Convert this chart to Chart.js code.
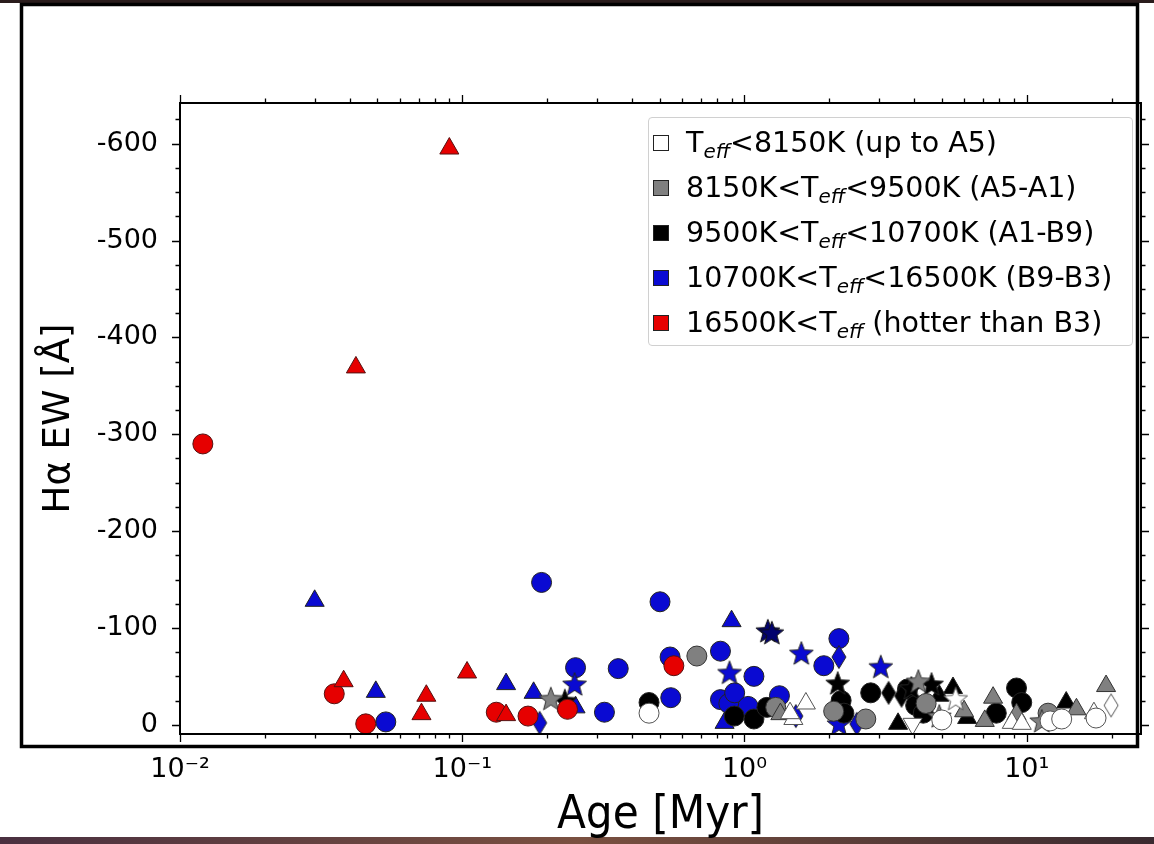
<!DOCTYPE html>
<html>
<head>
<meta charset="utf-8">
<script src="https://cdn.jsdelivr.net/npm/chart.js@4.4.1/dist/chart.umd.min.js"></script>
<style>
  body { margin: 0; background: #fff; }
  #wrap { position: relative; width: 1154px; height: 844px; }
  #legend {
    position: absolute; left: 648px; top: 117px; width: 485px; height: 229px;
    box-sizing: border-box; padding-top: 2px;
    border: 1px solid #d0d0d0; border-radius: 4px; background: rgba(255,255,255,0.85);
    font-family: 'DejaVu Sans', sans-serif; font-size: 28.5px; color: #000;
  }
  .row { height: 45px; display: flex; align-items: center; padding-left: 4px; white-space: nowrap; }
  .sw { width: 16px; height: 16px; box-sizing: border-box; border: 1px solid #222; margin-right: 17px; flex: none; }
  sub { font-style: italic; font-size: 0.7em; vertical-align: -0.28em; line-height: 0; }
</style>
</head>
<body>
<div id="wrap">
  <canvas id="chart" width="1154" height="844"></canvas>
  <div id="legend"></div>
</div>
<script>
// [age (Myr), H-alpha EW (A)]
const whiteCircles = [[0.459, -12], [5.0, -5], [12.1, -4], [13.3, -6], [17.6, -7]];
const whiteTriangles = [[1.49, -6], [1.65, -22], [1.45, -12], [8.85, -2], [9.6, -1], [17.3, -12]];
const whiteDown = [[3.94, -1]];
const whiteStars = [[5.6, -27]];
const whiteDiamonds = [[19.9, -20]];

const grayCircles = [[0.678, -71], [1.29, -18], [2.07, -14], [2.69, -6], [4.4, -22], [11.9, -12]];
const grayTriangles = [[1.34, -11], [6.0, -14], [7.1, -4], [7.6, -28], [9.2, -11], [15.0, -16], [19.1, -40]];
const grayStars = [[0.206, -27], [4.13, -45], [4.9, -9], [11.3, -4]];

const blackCircles = [[0.459, -23], [0.92, -9], [1.08, -6], [1.2, -18], [2.2, -25], [2.25, -12],
  [2.8, -33], [3.78, -37], [4.04, -20], [4.3, -12], [7.8, -12], [9.2, -38], [9.6, -23]];
const blackTriangles = [[3.5, -1], [4.9, -30], [5.48, -38], [6.15, -7], [13.8, -23]];
const blackStars = [[0.231, -25], [2.14, -43], [3.9, -38], [4.6, -42]];
const blackDiamonds = [[3.24, -33], [3.6, -30]];

const blueCircles = [[0.0536, -3], [0.191, -147], [0.252, -59], [0.319, -13], [0.357, -58], [0.502, -127],
  [0.545, -70], [0.548, -28], [0.822, -76], [0.822, -26], [0.88, -22], [0.923, -33], [1.03, -19],
  [1.08, -50], [1.33, -30], [1.91, -61], [2.16, -89]];
const blueTriangles = [[0.030, -128], [0.0494, -34], [0.143, -42], [0.179, -33], [0.252, -18], [0.90, -107], [0.85, -2]];
const blueStars = [[0.25, -42], [0.885, -54], [1.59, -74], [3.04, -60], [2.16, -1]];
const navyStars = [[1.21, -97], [1.25, -95]];
const blueDiamonds = [[0.188, -2], [1.52, -9], [2.16, -70], [2.5, -1]];

const redCircles = [[0.01205, -290], [0.0352, -32], [0.0455, -1], [0.132, -13], [0.171, -9], [0.236, -16], [0.562, -61]];
const redTriangles = [[0.090, -595], [0.042, -369], [0.038, -45], [0.0746, -30], [0.0717, -11], [0.104, -54], [0.143, -10]];

const xTickVals = [0.01, 0.1, 1, 10];
const xTickLabels = ['10\u207B\u00B2', '10\u207B\u00B9', '10\u2070', '10\u00B9'];
const yTickVals = [-600, -500, -400, -300, -200, -100, 0];

const legendColors = ['#ffffff', '#808080', '#000000', '#0a0ad2', '#e60000'];
const legendLabels = [
  'T<sub>eff</sub>&lt;8150K (up to A5)',
  '8150K&lt;T<sub>eff</sub>&lt;9500K (A5-A1)',
  '9500K&lt;T<sub>eff</sub>&lt;10700K (A1-B9)',
  '10700K&lt;T<sub>eff</sub>&lt;16500K (B9-B3)',
  '16500K&lt;T<sub>eff</sub> (hotter than B3)'
];

document.getElementById('legend').innerHTML = legendLabels.map((t, i) =>
  `<div class="row"><span class="sw" style="background:${legendColors[i]}"></span><span>${t}</span></div>`).join('');

function pts(a) { return a.map(p => ({ x: p[0], y: p[1] })); }

function starImg(fill, edge) {
  const c = document.createElement('canvas');
  c.width = c.height = 28;
  const g = c.getContext('2d');
  g.beginPath();
  for (let i = 0; i < 10; i++) {
    const r = i % 2 ? 5.3 : 12.5;
    const a = -Math.PI / 2 + i * Math.PI / 5;
    g.lineTo(14 + r * Math.cos(a), 15 + r * Math.sin(a));
  }
  g.closePath();
  g.fillStyle = fill; g.fill();
  g.lineWidth = 1; g.strokeStyle = edge; g.stroke();
  return c;
}

function diamondImg(fill, edge) {
  const c = document.createElement('canvas');
  c.width = 18; c.height = 26;
  const g = c.getContext('2d');
  g.beginPath();
  g.moveTo(9, 1.5); g.lineTo(16, 13); g.lineTo(9, 24.5); g.lineTo(2, 13);
  g.closePath();
  g.fillStyle = fill; g.fill();
  g.lineWidth = 1; g.strokeStyle = edge; g.stroke();
  return c;
}

function ds(data, style, fill, edge, radius, rotation) {
  return {
    data: pts(data), pointStyle: style, backgroundColor: fill, borderColor: edge,
    borderWidth: 1, pointRadius: radius, pointRotation: rotation || 0, pointHoverRadius: radius
  };
}

const WHITE = '#ffffff', GRAY = '#808080', BLACK = '#000000', BLUE = '#0a0ad2', NAVY = '#02026e', RED = '#e60000';

// first dataset ends up on top
const datasets = [
  ds(redTriangles, 'triangle', RED, '#551111', 11),
  ds(redCircles, 'circle', RED, '#551111', 10),
  ds(whiteCircles, 'circle', WHITE, '#555', 10),
  ds(whiteTriangles, 'triangle', WHITE, '#555', 11),
  ds(whiteDown, 'triangle', WHITE, '#555', 11, 180),
  ds(whiteStars, starImg(WHITE, '#555'), WHITE, '#555', 12),
  ds(whiteDiamonds, diamondImg(WHITE, '#555'), WHITE, '#555', 12),
  ds(grayStars, starImg(GRAY, '#333'), GRAY, '#333', 12),
  ds(grayTriangles, 'triangle', GRAY, '#333', 11),
  ds(grayCircles, 'circle', GRAY, '#333', 10),
  ds(blackStars, starImg(BLACK, '#222'), BLACK, '#222', 12),
  ds(blackDiamonds, diamondImg(BLACK, '#222'), BLACK, '#222', 12),
  ds(blackTriangles, 'triangle', BLACK, '#222', 11),
  ds(blackCircles, 'circle', BLACK, '#222', 10),
  ds(navyStars, starImg(NAVY, '#111'), NAVY, '#111', 12),
  ds(blueStars, starImg(BLUE, '#222'), BLUE, '#222', 12),
  ds(blueDiamonds, diamondImg(BLUE, '#222'), BLUE, '#222', 12),
  ds(blueTriangles, 'triangle', BLUE, '#222', 11),
  ds(blueCircles, 'circle', BLUE, '#222', 10)
];

const frame = {
  id: 'frame',
  beforeDraw(chart) {
    const ctx = chart.ctx;
    ctx.save();
    ctx.fillStyle = '#fff';
    ctx.fillRect(0, 0, chart.width, chart.height);
    ctx.fillStyle = '#2a1c1c';
    ctx.fillRect(0, 0, chart.width, 3);
    const grd = ctx.createLinearGradient(0, 0, chart.width, 0);
    grd.addColorStop(0, '#4a3040'); grd.addColorStop(0.5, '#7a5040'); grd.addColorStop(1, '#3a2a30');
    ctx.fillStyle = grd;
    ctx.fillRect(0, 837, chart.width, 7);
    ctx.restore();
  },
  afterDraw(chart) {
    const ctx = chart.ctx, a = chart.chartArea;
    const xs = chart.scales.x, ys = chart.scales.y;
    ctx.save();
    ctx.strokeStyle = '#000';
    ctx.lineWidth = 2;
    ctx.strokeRect(a.left, a.top, a.right - a.left, a.bottom - a.top);
    ctx.lineWidth = 1.3;
    ctx.beginPath();
    for (let d = -2; d <= 1; d++) {
      for (let m = 1; m <= 9; m++) {
        const v = m * Math.pow(10, d);
        if (v < xs.min || v > xs.max) continue;
        const px = Math.round(xs.getPixelForValue(v)) + 0.5;
        const len = m === 1 ? 8 : 4.5;
        ctx.moveTo(px, a.bottom); ctx.lineTo(px, a.bottom + len);
        ctx.moveTo(px, a.top); ctx.lineTo(px, a.top - len);
      }
    }
    for (let v = -625; v <= 0; v += 25) {
      const py = Math.round(ys.getPixelForValue(v)) + 0.5;
      const len = v % 100 === 0 ? 8 : 4.5;
      ctx.moveTo(a.left, py); ctx.lineTo(a.left - len, py);
      ctx.moveTo(a.right, py); ctx.lineTo(a.right + len, py);
    }
    ctx.stroke();
    // slide frame around the figure
    ctx.lineWidth = 3.5;
    ctx.strokeRect(21.5, 4.5, 1116, 742);
    ctx.restore();
  }
};

new Chart(document.getElementById('chart'), {
  type: 'scatter',
  data: { datasets },
  plugins: [frame],
  options: {
    responsive: false,
    animation: false,
    layout: { padding: { top: 103, right: 7, left: 0, bottom: 0 } },
    plugins: { legend: { display: false }, tooltip: { enabled: false } },
    scales: {
      x: {
        type: 'logarithmic',
        min: 0.01,
        max: 25.4,
        grid: { display: false, drawTicks: false },
        border: { display: false },
        afterBuildTicks(s) { s.ticks = xTickVals.map(v => ({ value: v })); },
        afterFit(s) { s.height = 110; },
        ticks: {
          autoSkip: false, maxRotation: 0, padding: 20, color: '#000',
          font: { family: 'DejaVu Sans', size: 27 },
          callback: (v, i) => xTickLabels[i]
        },
        title: {
          display: true, text: 'Age [Myr]', color: '#000',
          font: { family: "'DejaVu Sans Condensed', 'DejaVu Sans'", size: 47 },
          padding: { top: 0, bottom: 0 }
        }
      },
      y: {
        type: 'linear',
        reverse: true,
        min: -642,
        max: 9.5,
        grid: { display: false, drawTicks: false },
        border: { display: false },
        afterBuildTicks(s) { s.ticks = yTickVals.map(v => ({ value: v })); },
        afterFit(s) { s.width = 180; },
        ticks: {
          padding: 22, color: '#000',
          font: { family: 'DejaVu Sans', size: 27 },
          callback: v => String(v)
        },
        title: {
          display: true, text: 'H\u03B1 EW [\u00C5]', color: '#000',
          font: { family: 'DejaVu Sans', size: 37 },
          padding: { top: 37, bottom: 0 }
        }
      }
    }
  }
});
</script>
</body>
</html>
